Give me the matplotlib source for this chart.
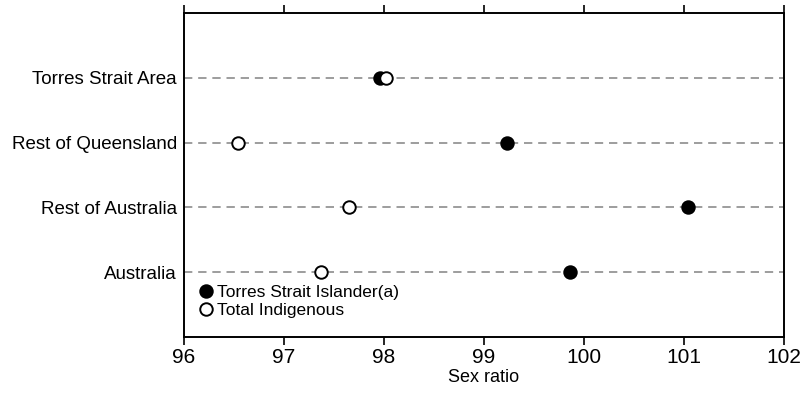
import matplotlib
matplotlib.use("Agg")
import matplotlib.pyplot as plt
from matplotlib.lines import Line2D

plt.rcParams['font.family'] = ['Liberation Sans Narrow', 'Liberation Sans', 'DejaVu Sans']

categories = ["Torres Strait Area", "Rest of Queensland", "Rest of Australia", "Australia"]
tsi_values = [97.96, 99.23, 101.04, 99.86]
total_values = [98.02, 96.54, 97.65, 97.37]
x_ticks = [96, 97, 98, 99, 100, 101, 102]
series_names = ["Torres Strait Islander(a)", "Total Indigenous"]

fig = plt.figure(figsize=(8.08, 3.94), dpi=100)
ax = fig.add_axes([184/808, 57/394, 600/808, 324/394])

ypos = [4, 3, 2, 1]
for y in ypos:
    ax.axhline(y, color='#8c8c8c', linestyle=(0, (5, 3.5)), linewidth=1.2, zorder=1)

ax.plot(tsi_values, ypos, linestyle='none', marker='o', markersize=9,
        markerfacecolor='black', markeredgecolor='black', markeredgewidth=1.4, zorder=3)
ax.plot(total_values, ypos, linestyle='none', marker='o', markersize=9,
        markerfacecolor='white', markeredgecolor='black', markeredgewidth=1.4, zorder=4)

ax.set_xlim(96, 102)
ax.set_ylim(0, 5)
ax.set_xticks(x_ticks)
ax.set_xticklabels([str(t) for t in x_ticks], fontsize=15)
ax.set_yticks(ypos)
ax.set_yticklabels(categories, fontsize=13.5)
ax.tick_params(axis='y', length=0, pad=5)
ax.tick_params(axis='x', direction='out', length=6, width=1.2, top=True, bottom=True, labeltop=False, pad=2)
for s in ax.spines.values():
    s.set_linewidth(1.4)
ax.set_xlabel("Sex ratio", fontsize=13, labelpad=1)

handles = [
    Line2D([], [], linestyle='none', marker='o', markersize=9, markerfacecolor='black', markeredgecolor='black', markeredgewidth=1.4),
    Line2D([], [], linestyle='none', marker='o', markersize=9, markerfacecolor='white', markeredgecolor='black', markeredgewidth=1.4),
]
ax.legend(handles, series_names, loc='lower left', bbox_to_anchor=(0.0, 0.02), frameon=False,
          fontsize=12.5, handletextpad=0.1, borderaxespad=0.3, labelspacing=0.2, handlelength=1.1)

fig.savefig("out.png", dpi=100)
